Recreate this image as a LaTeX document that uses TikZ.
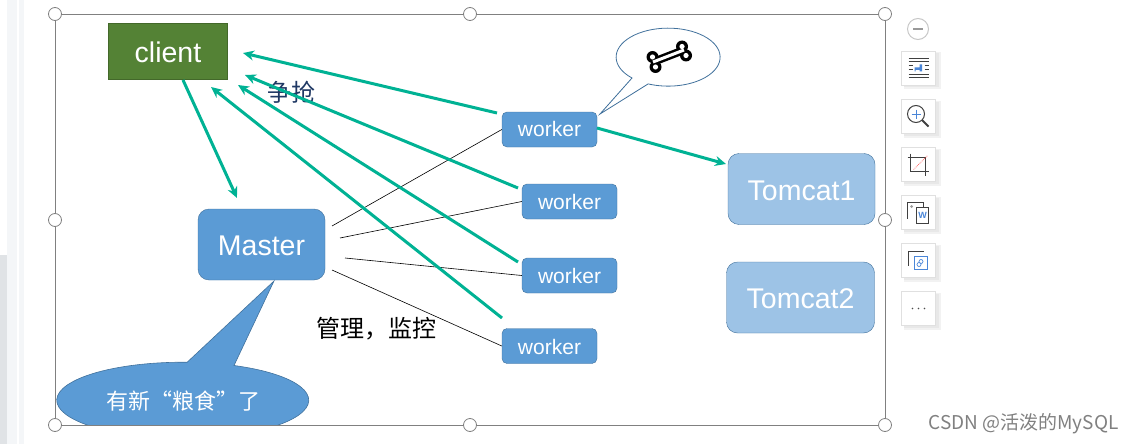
\documentclass[tikz,border=0pt]{standalone}
\usepackage{fontspec}
\setmainfont{Liberation Sans}
\newfontfamily\cjk{Noto Sans CJK SC}
\usetikzlibrary{calc,positioning,arrows.meta,shapes.geometric}

\definecolor{boxBlue}{HTML}{5B9BD5}
\definecolor{boxEdge}{HTML}{41719C}
\definecolor{lightBlue}{HTML}{9DC3E6}
\definecolor{clientGreen}{HTML}{548235}
\definecolor{arrowGreen}{HTML}{00B294}
\definecolor{frameGray}{HTML}{808080}
\definecolor{grabNavy}{HTML}{1F3864}
\definecolor{stripGray}{HTML}{E0E3E6}
\definecolor{stripLight}{HTML}{F4F6F8}
\definecolor{iconBlue}{HTML}{4A86D8}

\newcommand{\boxtext}[2]{\raisebox{-#1pt}[0pt][0pt]{#2}}

\tikzset{
  workerbox/.style={draw=boxEdge,fill=boxBlue,rounded corners=5pt,minimum width=95pt,minimum height=35pt,text=white,font=\fontsize{21}{21}\selectfont,inner sep=0pt},
  tomcatbox/.style={draw=boxEdge,fill=lightBlue,rounded corners=11pt,minimum width=147pt,minimum height=71pt,text=white,font=\fontsize{28.5}{28.5}\selectfont,inner sep=0pt},
  grabarrow/.style={draw=arrowGreen,line width=3pt,-{Stealth[length=11pt,width=10pt]}},
  handle/.style={circle,draw=frameGray,fill=white,minimum size=13pt,inner sep=0pt,line width=0.8pt},
  toolbtn/.style={draw=black!12,fill=white,minimum size=34pt,inner sep=0pt},
  thinline/.style={draw=black,line width=0.6pt},
  iconline/.style={draw=black!75,line width=0.8pt}
}

\begin{document}
\begin{tikzpicture}[x=1pt,y=-1pt]
\useasboundingbox (0,0) rectangle (1133,444);

% side strip
\fill[stripGray] (0,255) rectangle (7,444);
\fill[stripLight] (7,0) rectangle (17,444);
\fill[stripLight] (19,0) rectangle (24,444);

% frame
\coordinate (F1) at (55,14);
\coordinate (F2) at (885,14);
\coordinate (F3) at (55,425);
\coordinate (F4) at (885,425);
\draw[frameGray,line width=0.8pt] (F1) rectangle (F4);

% boxes
\node[draw=clientGreen!80!black,fill=clientGreen,minimum width=119pt,minimum height=56pt,text=white,inner sep=0pt,font=\fontsize{28.5}{28.5}\selectfont] (client) at (168,51.5) {\boxtext{11}{client}};
\node[draw=boxEdge,fill=boxBlue,rounded corners=11pt,minimum width=127pt,minimum height=71pt,text=white,inner sep=0pt,font=\fontsize{28.5}{28.5}\selectfont] (master) at (261.5,244.5) {\boxtext{11}{Master}};
\node[workerbox] (w1) at (549.5,129.5) {\boxtext{7}{worker}};
\node[workerbox] (w2) at (569.5,201.5) {\boxtext{7.5}{worker}};
\node[workerbox] (w3) at (569.5,275.5) {\boxtext{7.5}{worker}};
\node[workerbox] (w4) at (549.5,346) {\boxtext{8}{worker}};
\node[tomcatbox] (tc1) at (801.5,189) {\boxtext{11}{Tomcat1}};
\node[tomcatbox,minimum width=148pt] (tc2) at (800.5,297.5) {\boxtext{11}{Tomcat2}};

% labels
\node[text=grabNavy,font=\cjk\fontsize{24}{24}\selectfont] (grab) at (291,92) {争抢};
\node[font=\cjk\fontsize{24}{24}\selectfont] (manage) at (376,329) {管理，监控};
\node[text=black!50,font=\cjk\fontsize{19}{19}\selectfont,anchor=east] (csdn) at (1122,424) {CSDN @活泼的MySQL};

% thin lines from master
\coordinate (m1) at (332,226);
\coordinate (m2) at (340,238);
\coordinate (m3) at (345,258);
\coordinate (m4) at (332,270);
\draw[thinline] (m1) -- (w1.west);
\draw[thinline] (m2) -- (w2.west);
\draw[thinline] (m3) -- (w3.west);
\draw[thinline] (m4) -- (w4.west);

% green arrows
\coordinate (a0) at (183,80);
\coordinate (a0e) at (237,198);
\coordinate (a1e) at (243,53);
\coordinate (a2e) at (245,75);
\coordinate (a3e) at (238,85);
\coordinate (a4e) at (211,87);
\coordinate (a1s) at (497,113);
\coordinate (a2s) at (518,188);
\coordinate (a3s) at (518,262);
\coordinate (a4s) at (502,318);
\coordinate (a5s) at (597,128);
\coordinate (a5e) at (726,164);
\draw[grabarrow] (a0) -- (a0e);
\draw[grabarrow] (a1s) -- (a1e);
\draw[grabarrow] (a2s) -- (a2e);
\draw[grabarrow] (a3s) -- (a3e);
\draw[grabarrow] (a4s) -- (a4e);
\draw[grabarrow] (a5s) -- (a5e);

% bubble with the bone
\draw[draw=boxEdge,fill=white,line width=0.8pt] (600,114) -- (632,78) arc[start angle=134,end angle=472.6,x radius=52,y radius=29] -- cycle;
\draw[black,line width=8pt] (653,62) -- (684,50);
\fill[black] (652.5,57) circle (6) (655.5,67) circle (6) (682,46.5) circle (6) (686,55.5) circle (6);
\draw[white,line width=3pt] (653,62) -- (684,50);
\fill[white] (652.5,57) circle (2.6) (655.5,67) circle (2.6) (682,46.5) circle (2.6) (686,55.5) circle (2.6);

% callout under master
\begin{scope}
  \clip (0,0) rectangle (1133,425);
  \draw[draw=boxEdge,fill=boxBlue,line width=0.6pt] (274,281) -- (234,365.5) arc[start angle=294,end angle=632,x radius=126,y radius=38] -- cycle;
\end{scope}
\draw[frameGray,line width=0.8pt] (F3) -- (F4);
\node[text=white,font=\cjk\fontsize{22}{22}\selectfont] (news) at (183,401) {有新“粮食”了};

% handles
\node[handle] (h1) at (F1) {};
\node[handle] (h2) at (470,14) {};
\node[handle] (h3) at (F2) {};
\node[handle] (h4) at (55,220) {};
\node[handle] (h5) at (885,220) {};
\node[handle] (h6) at (F3) {};
\node[handle] (h7) at (470,425) {};
\node[handle] (h8) at (F4) {};

% toolbar
\node[circle,draw=black!22,line width=1pt,minimum size=21pt,inner sep=0pt] (minus) at (918,29) {};
\draw[black!40,line width=2pt] ($(minus)+(-5,0)$) -- ($(minus)+(5,0)$);
\foreach \name/\y in {tb1/68.5,tb2/116.5,tb3/164.5,tb4/212.5,tb5/260.5,tb6/308.5}{
  \fill[black!5] (904,\y-16) rectangle (941,\y+21);
  \fill[black!9] (904,\y-15) rectangle (938.5,\y+19);
  \node[toolbtn] (\name) at (918.5,\y) {};
}
% text wrap icon
\foreach \dy in {-10,-7,6,9}
  \draw[iconline,line width=0.7pt] ($(tb1)+(-10,\dy)$) -- ($(tb1)+(10,\dy)$);
\foreach \dy in {-3,1}{
  \draw[iconline,line width=0.7pt] ($(tb1)+(-10,\dy)$) -- ($(tb1)+(-6,\dy)$);
  \draw[iconline,line width=0.7pt] ($(tb1)+(6,\dy)$) -- ($(tb1)+(10,\dy)$);
}
\fill[iconBlue] ($(tb1)+(-4,-1)$) rectangle ($(tb1)+(2,1.5)$) ($(tb1)+(1,-4)$) rectangle ($(tb1)+(3.5,3)$) ($(tb1)+(-4,-1)$) rectangle ($(tb1)+(-3,3)$);
% zoom icon
\draw[iconline,line width=1pt] ($(tb2)+(-2.5,-2.5)$) circle (8.5);
\draw[black!75,line width=2pt] ($(tb2)+(3.5,3.5)$) -- ($(tb2)+(10,10)$);
\draw[iconBlue,line width=0.9pt] ($(tb2)+(-7,-2.5)$) -- ($(tb2)+(2,-2.5)$) ($(tb2)+(-2.5,-7)$) -- ($(tb2)+(-2.5,2)$);
% crop icon
\draw[iconline] ($(tb3)+(-8,-11)$) -- ($(tb3)+(-8,7)$) -- ($(tb3)+(10,7)$);
\draw[iconline] ($(tb3)+(-11,-7)$) -- ($(tb3)+(7,-7)$) -- ($(tb3)+(7,11)$);
\draw[red!70,densely dotted,line width=0.7pt] ($(tb3)+(-5,5)$) -- ($(tb3)+(9,-9)$);
% picture to word icon
\draw[iconline] ($(tb4)+(-11,6)$) |- ($(tb4)+(5,-10)$) -- ($(tb4)+(5,-6)$);
\draw[iconline,fill=white] ($(tb4)+(-2,-5)$) rectangle ($(tb4)+(10,10.5)$);
\fill[black!40] ($(tb4)+(-7,-6)$) circle (1.5);
\node[text=iconBlue,inner sep=0pt,font=\bfseries\fontsize{9}{9}\selectfont] (wordmark) at ($(tb4)+(4,3)$) {W};
% picture to link icon
\draw[iconline] ($(tb5)+(-10,5)$) |- ($(tb5)+(5,-9)$);
\draw[iconBlue,fill=white,line width=0.8pt] ($(tb5)+(-4,-4)$) rectangle ($(tb5)+(9,9)$);
\draw[iconBlue,line width=0.7pt] ($(tb5)+(2.5,1)$) circle (2) ($(tb5)+(0.5,4)$) circle (2);
% more icon
\foreach \dx in {-6,0,6}
  \fill[black!70] ($(tb6)+(\dx,0)$) circle (0.9);
\end{tikzpicture}
\end{document}
